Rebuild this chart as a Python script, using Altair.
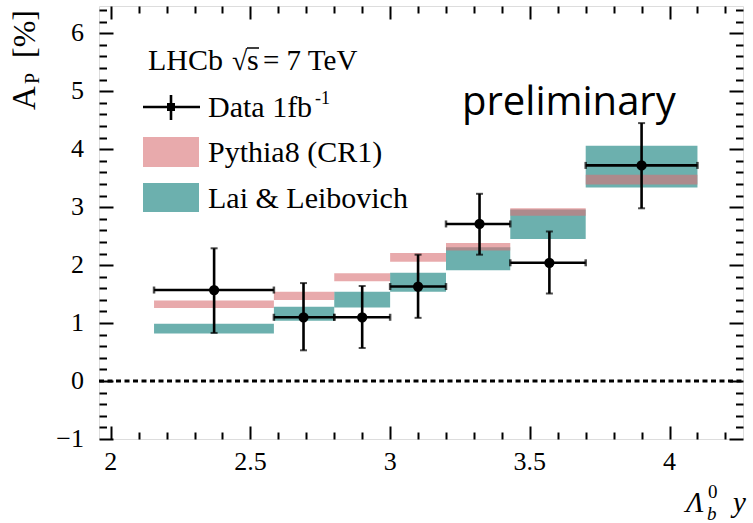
import altair as alt
import pandas as pd

# ---------------- data ----------------
bin_lo = [2.155, 2.584, 2.80, 3.00, 3.20, 3.43, 3.70]
bin_hi = [2.584, 2.80, 3.00, 3.20, 3.43, 3.70, 4.10]
x_data = [2.37, 2.69, 2.90, 3.10, 3.32, 3.57, 3.90]
ap = [1.57, 1.10, 1.10, 1.63, 2.71, 2.04, 3.72]
ap_hi = [2.29, 1.69, 1.64, 2.18, 3.23, 2.58, 4.45]
ap_lo = [0.83, 0.53, 0.57, 1.09, 2.18, 1.51, 2.98]
pythia_lo = [1.26, 1.40, 1.72, 2.06, 2.25, 2.85, 3.39]
pythia_hi = [1.39, 1.54, 1.86, 2.21, 2.38, 2.98, 3.56]
lai_lo = [0.82, 1.04, 1.27, 1.54, 1.91, 2.45, 3.34]
lai_hi = [0.99, 1.28, 1.54, 1.87, 2.31, 2.96, 4.06]

x_major = [2, 2.5, 3, 3.5, 4]
x_minor = [2.1, 2.2, 2.3, 2.4, 2.6, 2.7, 2.8, 2.9, 3.1, 3.2, 3.3, 3.4,
           3.6, 3.7, 3.8, 3.9, 4.1, 4.2]
y_major = [-1, 0, 1, 2, 3, 4, 5, 6]
y_minor = [round(-1 + 0.2 * i, 1) for i in range(38) if i % 5]

x_domain = [1.958, 4.263]
y_domain = [-1, 6.47]

W, H = 644, 433
PL, PT = 99, 6
SERIF = "Liberation Serif"
PINK = "#d97174"
TEAL = "#6cb0ae"

df = pd.DataFrame({
    "lo": bin_lo, "hi": bin_hi, "x": x_data, "y": ap,
    "ylo": ap_lo, "yhi": ap_hi,
    "py_lo": pythia_lo, "py_hi": pythia_hi,
    "lai_lo": lai_lo, "lai_hi": lai_hi,
})
one = pd.DataFrame({"k": [0]})
zero = pd.DataFrame({"z": [0]})
xlab = pd.DataFrame({"v": x_major})
ylab = pd.DataFrame({"v": y_major})

xs = alt.Scale(domain=x_domain, nice=False, zero=False)
ys = alt.Scale(domain=y_domain, nice=False, zero=False)


def tick_axis(orient, values, size, offset):
    return alt.Axis(orient=orient, values=values, tickSize=size, offset=offset,
                    labels=False, domain=False, grid=False, title=None,
                    ticks=True, tickColor="black", tickWidth=2)


base = alt.Chart(df)

lai = base.mark_rect(fill=TEAL, opacity=1).encode(
    x=alt.X("lo:Q", scale=xs, axis=None), x2="hi:Q",
    y=alt.Y("lai_lo:Q", scale=ys, axis=None), y2="lai_hi:Q")

pythia = base.mark_rect(fill=PINK, opacity=0.6).encode(
    x=alt.X("lo:Q", scale=xs, axis=tick_axis("top", x_major, 13, -H)), x2="hi:Q",
    y=alt.Y("py_lo:Q", scale=ys, axis=tick_axis("right", y_major, 14, -W)), y2="py_hi:Q")

zline = alt.Chart(zero).mark_rule(color="black", strokeWidth=3, strokeDash=[5, 3.5]).encode(
    x=alt.value(0), x2=alt.value(W), y=alt.Y("z:Q", scale=ys, axis=None))

herr = base.mark_rule(color="black", strokeWidth=2.6).encode(
    x=alt.X("lo:Q", scale=xs, axis=tick_axis("top", x_minor, 7, -H)), x2="hi:Q",
    y=alt.Y("y:Q", scale=ys, axis=tick_axis("right", y_minor, 7.5, -W)))

verr = base.mark_rule(color="black", strokeWidth=2.6).encode(
    x=alt.X("x:Q", scale=xs, axis=tick_axis("bottom", x_major, 13, -H)),
    y=alt.Y("ylo:Q", scale=ys, axis=tick_axis("left", y_major, 14, -W)), y2="yhi:Q")

cap_lo = base.mark_tick(color="black", orient="horizontal", size=7, thickness=2).encode(
    x=alt.X("x:Q", scale=xs, axis=tick_axis("bottom", x_minor, 7, -H)),
    y=alt.Y("ylo:Q", scale=ys, axis=tick_axis("left", y_minor, 7.5, -W)))

cap_hi = base.mark_tick(color="black", orient="horizontal", size=7, thickness=2).encode(
    x=alt.X("x:Q", scale=xs, axis=None), y=alt.Y("yhi:Q", scale=ys, axis=None))

cap_l = base.mark_tick(color="black", orient="vertical", size=7, thickness=2.5).encode(
    x=alt.X("lo:Q", scale=xs, axis=None), y=alt.Y("y:Q", scale=ys, axis=None))

cap_r = base.mark_tick(color="black", orient="vertical", size=7, thickness=2.5).encode(
    x=alt.X("hi:Q", scale=xs, axis=None), y=alt.Y("y:Q", scale=ys, axis=None))

points = base.mark_circle(color="black", opacity=1, size=105).encode(
    x=alt.X("x:Q", scale=xs, axis=None), y=alt.Y("y:Q", scale=ys, axis=None))

# tick labels (serif), placed through the same scales
xlabels = alt.Chart(xlab).mark_text(
    font=SERIF, fontSize=26, baseline="top", align="center", color="black").encode(
    x=alt.X("v:Q", scale=xs, axis=None), y=alt.value(H + 10),
    text=alt.Text("v:Q", format="~g"))
ylabels = alt.Chart(ylab).mark_text(
    font=SERIF, fontSize=26, baseline="middle", align="right", color="black").encode(
    y=alt.Y("v:Q", scale=ys, axis=None), x=alt.value(-15),
    text=alt.Text("v:Q", format="d"))


def txt(xa, ya, s, size, font=SERIF, style="normal", angle=0, align="left",
        baseline="alphabetic"):
    return alt.Chart(one).mark_text(
        text=s, font=font, fontSize=size, fontStyle=style, angle=angle,
        align=align, baseline=baseline, color="black").encode(
        x=alt.value(xa - PL), y=alt.value(ya - PT))


def rule(xa1, ya1, xa2, ya2, width=2.6, color="black"):
    return alt.Chart(one).mark_rule(color=color, strokeWidth=width).encode(
        x=alt.value(xa1 - PL), x2=alt.value(xa2 - PL),
        y=alt.value(ya1 - PT), y2=alt.value(ya2 - PT))


def box(xa1, ya1, xa2, ya2, color, opacity=1.0):
    return alt.Chart(one).mark_rect(fill=color, opacity=opacity).encode(
        x=alt.value(xa1 - PL), x2=alt.value(xa2 - PL),
        y=alt.value(ya1 - PT), y2=alt.value(ya2 - PT))


legend = [
    txt(148, 70, "LHCb", 30),
    txt(232, 70, "√", 28),
    rule(247, 48, 259, 48, width=1.5),
    txt(247, 70, "s", 30),
    txt(263, 70, "= 7 TeV", 29),
    rule(143, 107, 200, 107),
    rule(171, 95, 171, 120),
    alt.Chart(one).mark_square(color="black", opacity=1, size=64).encode(
        x=alt.value(171 - PL), y=alt.value(107 - PT)),
    txt(208, 117, "Data 1fb", 30),
    txt(315, 104, "-1", 18),
    box(143, 137, 199, 167, PINK, 0.6),
    txt(208, 162, "Pythia8 (CR1)", 30),
    box(143, 183, 199, 212, TEAL),
    txt(208, 208, "Lai & Leibovich", 30),
    txt(462, 115, "preliminary", 40, font="Open Sans"),
    # y-axis title
    txt(35, 110, "A", 33, angle=270),
    txt(39, 84, "P", 20, angle=270),
    txt(35, 58, "[%]", 32, angle=270),
    # x-axis title
    txt(686, 512, "Λ", 29, style="italic"),
    txt(708, 498, "0", 19),
    txt(707, 520, "b", 19, style="italic"),
    txt(733, 512, "y", 29, style="italic"),
]

chart = alt.layer(
    lai, pythia, zline, herr, verr, cap_lo, cap_hi, cap_l, cap_r, points,
    xlabels, ylabels, *legend
).resolve_axis(x="independent", y="independent").properties(
    width=W, height=H,
    autosize=alt.AutoSizeParams(type="none"),
    padding={"left": PL, "top": PT, "right": 753 - PL - W, "bottom": 523 - PT - H},
).configure_view(stroke="black", strokeWidth=2).configure(background="white")

chart.save("out.html", embed_options={"renderer": "svg", "actions": False})
